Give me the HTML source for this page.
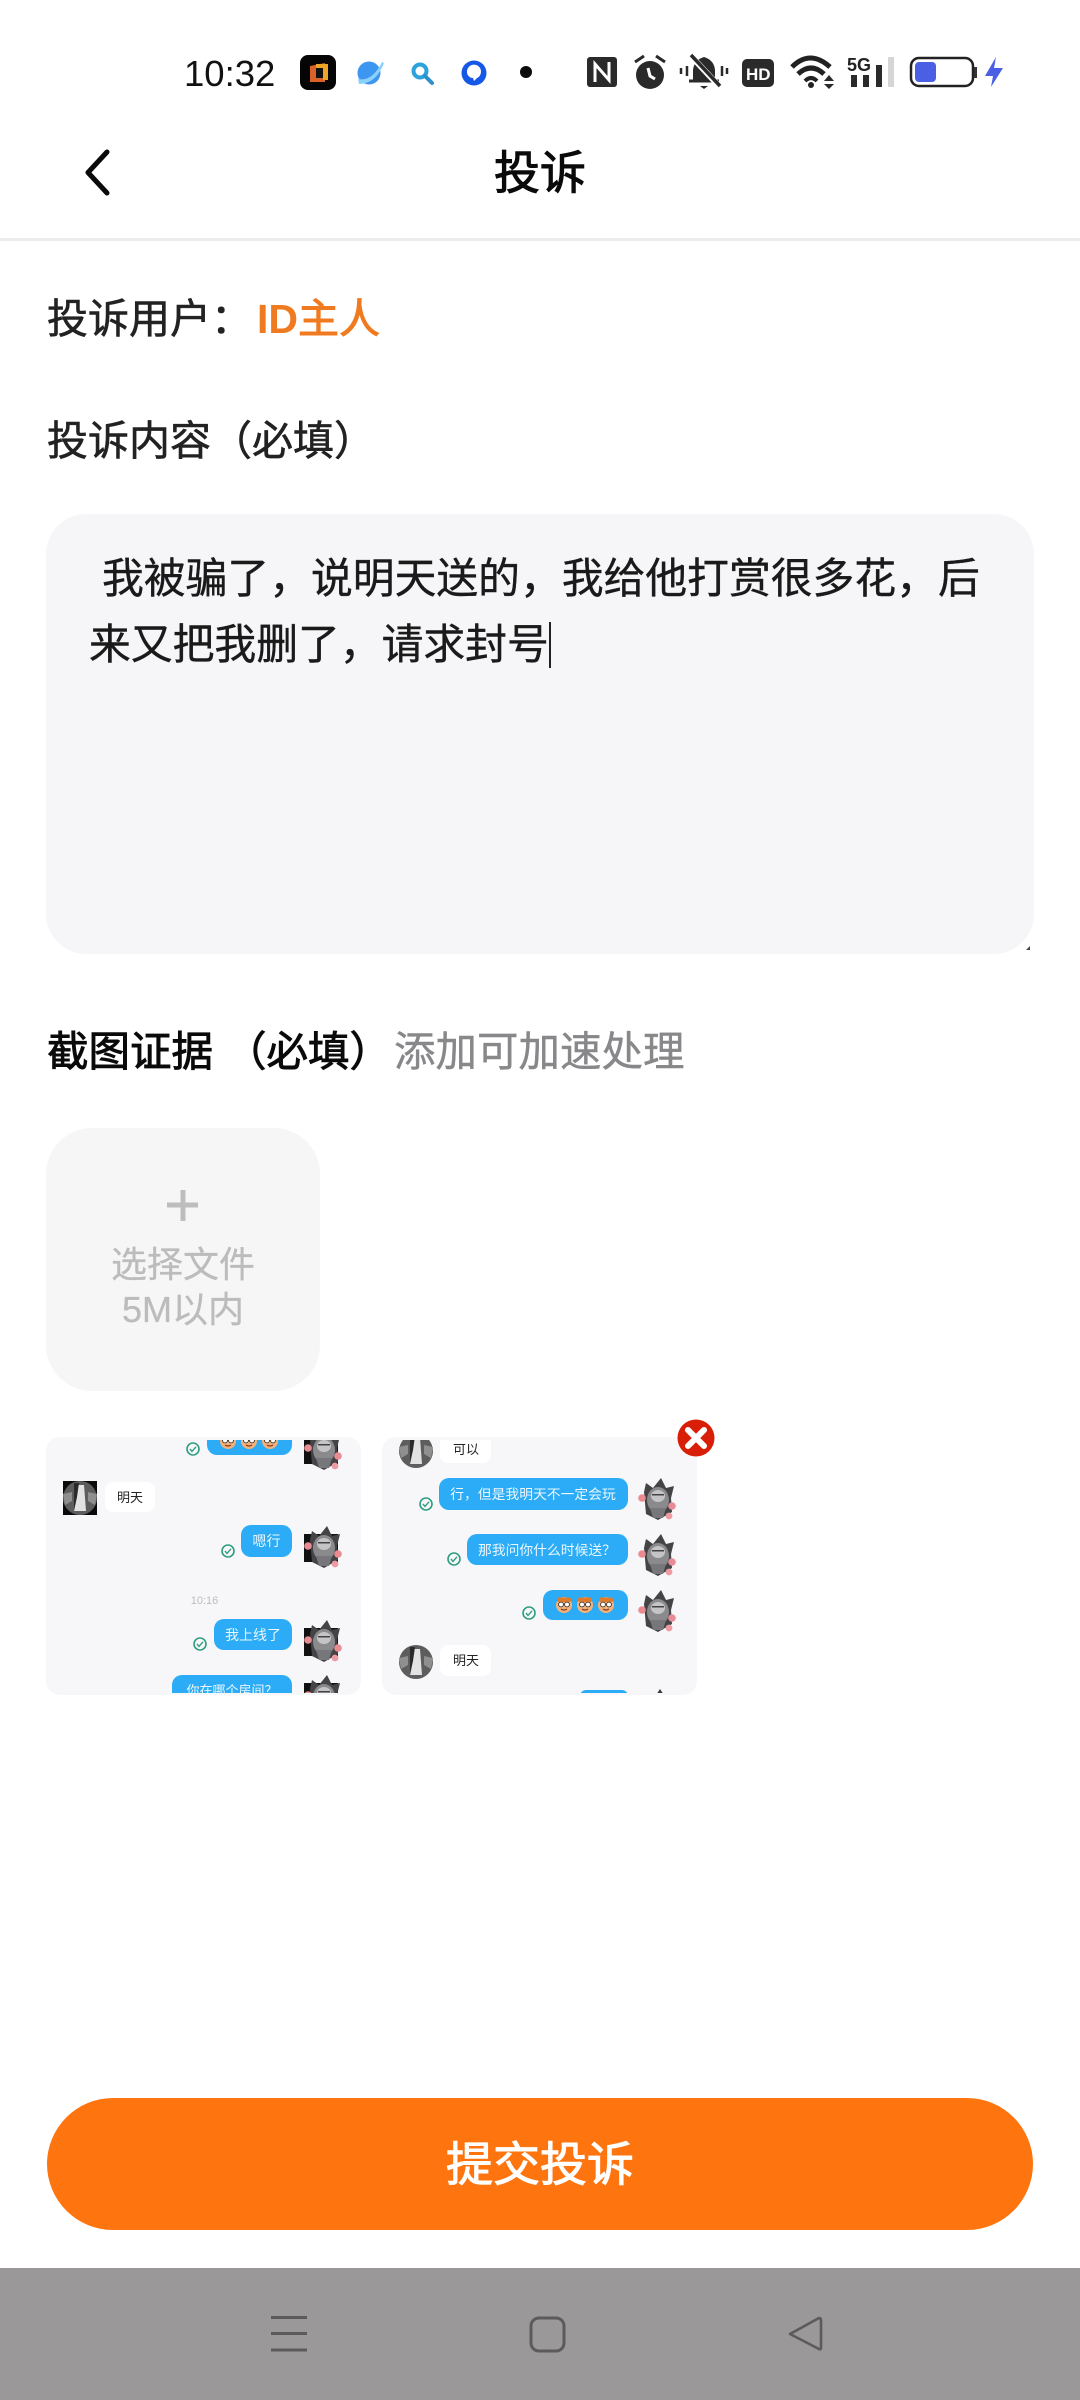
<!DOCTYPE html>
<html lang="zh">
<head>
<meta charset="utf-8">
<title>投诉</title>
<style>
html,body{margin:0;padding:0;background:#fff;width:1080px;height:2400px;overflow:hidden}
svg{display:block}
text{font-family:"Liberation Sans","Noto Sans CJK SC",sans-serif}
</style>
</head>
<body>
<svg xmlns="http://www.w3.org/2000/svg" width="1080" height="2400" viewBox="0 0 1080 2400">
<defs>
<clipPath id="c1"><rect x="46" y="1440" width="315" height="253"/></clipPath>
<clipPath id="c2"><rect x="382" y="1440" width="315" height="253"/></clipPath>
<g id="cat">
  <polygon points="6,14 8,5 15,10 23,0 28,10 36,8 33,20 34,34 20,42 8,36" fill="#444447"/>
  <ellipse cx="20" cy="22" rx="11" ry="13" fill="#8a8a8d"/>
  <ellipse cx="20" cy="18" rx="7" ry="6" fill="#c4c4c6"/>
  <rect x="14" y="16" width="12" height="1.5" fill="#444"/>
  <path d="M12 30 L28 30 L25 40 L15 40Z" fill="#77777b"/>
  <circle cx="4" cy="20" r="3.8" fill="#e88b93"/>
  <circle cx="34" cy="28" r="3.8" fill="#e88b93"/>
  <circle cx="31" cy="38" r="3.4" fill="#ee9aa2"/>
</g>
<g id="girl">
  <circle cx="17" cy="17" r="17" fill="#5d5d5d"/>
  <path d="M13 4 L21 4 L23 30 L11 30Z" fill="#e2e2e2"/>
  <path d="M11 2 L16 2 L14 16 L11 30Z" fill="#2a2a2a"/>
  <path d="M0 13 L9 11 L9 20 L2 24Z" fill="#8f8f8f"/>
  <path d="M34 13 L25 11 L25 20 L32 24Z" fill="#8f8f8f"/>
</g>
<g id="ck">
  <circle r="6" fill="none" stroke="#2f9e80" stroke-width="1.6"/>
  <path d="M-3 0 L-1 2.4 L3 -2.2" fill="none" stroke="#2f9e80" stroke-width="1.4"/>
</g>
<g id="mk">
  <circle r="8" fill="#f3b27a"/>
  <rect x="-7" y="-7.5" width="14" height="4.5" rx="2" fill="#e07b2c"/>
  <circle cx="-3" cy="-.5" r="2.4" fill="#fff" stroke="#222" stroke-width=".8"/>
  <circle cx="3" cy="-.5" r="2.4" fill="#fff" stroke="#222" stroke-width=".8"/>
  <path d="M-3 4 Q0 6 3 4" fill="none" stroke="#8c3b1c" stroke-width="1.2"/>
</g>
</defs>

<rect width="1080" height="2400" fill="#fff"/>

<!-- status bar -->
<text x="184" y="86" font-size="36.5" fill="#111">10:32</text>
<rect x="300" y="55" width="36" height="35" rx="8" fill="#050505"/>
<path d="M310 66 L325 63 V82 L310 82Z" fill="#d9612a"/>
<path d="M316 64 H328 V80 H323 V68 H316Z" fill="#f0a524"/>
<rect x="316" y="68" width="7" height="10" fill="#111"/>
<circle cx="369" cy="73" r="11.5" fill="#3d96ef"/>
<path d="M358 79 Q372 82 382 62 L384 63 Q376 84 359 84Z" fill="#8bd2fa"/>
<circle cx="420" cy="71" r="6.5" fill="none" stroke="#2ba3dd" stroke-width="4"/>
<path d="M425 76 L432 83" stroke="#2f8fc9" stroke-width="4" stroke-linecap="round"/>
<circle cx="474" cy="73" r="12.5" fill="#1557e6"/>
<path d="M467 72 a7 7 0 1 1 10 6 l-3 3 l-1 -3 a6 6 0 0 1 -6 -6z" fill="#fff"/>
<circle cx="526" cy="72" r="6" fill="#0a0a0a"/>

<rect x="587" y="57" width="30" height="30" rx="3" fill="#2a2a2a"/>
<path d="M595 82 V64 L609 80 V62" fill="none" stroke="#fff" stroke-width="3"/>
<circle cx="650" cy="75" r="14" fill="#2a2a2a"/>
<path d="M635 62 L644 56 M665 62 L656 56" stroke="#2a2a2a" stroke-width="3"/>
<path d="M648 68 L650 76 L655 79" fill="none" stroke="#fff" stroke-width="3"/>
<path d="M693 81 L693 70 Q694 60 704 57 Q714 60 715 70 L715 81Z" fill="#2a2a2a"/>
<path d="M689 81 H719" stroke="#2a2a2a" stroke-width="3"/>
<path d="M691 56 L719 86" stroke="#fff" stroke-width="6"/>
<path d="M691 55 L720 86" stroke="#2a2a2a" stroke-width="3.5"/>
<path d="M681 68 V74 M687 66 V76 M722 66 V76 M727 68 V74" stroke="#2a2a2a" stroke-width="2.5"/>
<path d="M700 86 h8 l-4 3z" fill="#2a2a2a"/>
<rect x="742" y="59" width="32" height="28" rx="5" fill="#2a2a2a"/>
<text x="746" y="80" font-size="17" font-weight="700" fill="#fff">HD</text>
<path d="M792 67 Q810 49 830 67" fill="none" stroke="#222" stroke-width="5"/>
<path d="M798 74 Q811 62 824 74" fill="none" stroke="#222" stroke-width="5"/>
<path d="M805 81 Q811 75 817 81" fill="none" stroke="#222" stroke-width="4"/>
<circle cx="811" cy="85" r="3" fill="#222"/>
<path d="M824 81 L829 75 L834 81Z M824 84 L834 84 L829 89Z" fill="#2a2a2a"/>
<text x="847" y="71" font-size="18" font-weight="700" fill="#222">5G</text>
<rect x="851" y="75" width="6" height="12" fill="#2a2a2a"/>
<rect x="863" y="75" width="6" height="12" fill="#2a2a2a"/>
<rect x="876" y="65" width="6" height="22" fill="#2a2a2a"/>
<rect x="888" y="57" width="6" height="30" fill="#d6d6d6"/>
<rect x="911" y="58" width="62" height="28" rx="8" fill="none" stroke="#222" stroke-width="2.5"/>
<rect x="915" y="62" width="21" height="20" rx="4" fill="#4a5fe3"/>
<rect x="974" y="67" width="3" height="11" fill="#333"/>
<path d="M996 57 L985 76 L993 76 L991 87 L1003 68 L994 68Z" fill="#4a5fe3"/>

<!-- header -->
<path d="M107 152 L88 172.5 L107 193" fill="none" stroke="#0a0a0a" stroke-width="5" stroke-linecap="round" stroke-linejoin="round"/>
<text x="540" y="189" font-size="46" stroke="#0a0a0a" stroke-width="1" text-anchor="middle" fill="#0a0a0a">投诉</text>
<rect x="0" y="238" width="1080" height="3" fill="#ececec"/>

<!-- form -->
<text x="47" y="333" font-size="41" stroke="#222" stroke-width=".6" fill="#222">投诉用户：</text>
<text x="257" y="333" font-size="41" font-weight="700" fill="#f07a20">ID<tspan font-weight="400" stroke="#f07a20" stroke-width="1">主人</tspan></text>
<text x="47" y="455" font-size="41" stroke="#222" stroke-width=".6" fill="#222">投诉内容（必填）</text>

<rect x="46" y="514" width="988" height="440" rx="40" fill="#f6f6f8"/>
<text x="102" y="593" font-size="41.8" stroke="#1a1a1a" stroke-width=".4" fill="#1a1a1a">我被骗了，说明天送的，我给他打赏很多花，后</text>
<text x="89" y="659" font-size="41.8" stroke="#1a1a1a" stroke-width=".4" fill="#1a1a1a">来又把我删了，请求封号</text>
<rect x="549" y="622" width="2" height="46" fill="#222"/>
<path d="M1026 950 L1030 946 L1030 950Z" fill="#444"/>

<text x="47" y="1066" font-size="41.5" stroke="#0a0a0a" stroke-width=".9" fill="#0a0a0a">截图证据</text>
<text x="225" y="1066" font-size="41.5" stroke="#0a0a0a" stroke-width=".9" fill="#0a0a0a">（必填）</text>
<text x="394" y="1066" font-size="41.5" stroke="#88878a" stroke-width=".4" fill="#88878a">添加可加速处理</text>

<rect x="46" y="1128" width="274" height="263" rx="46" fill="#f6f6f7"/>
<rect x="167" y="1202.5" width="31" height="5" fill="#bdbdbd"/>
<rect x="180.5" y="1190" width="5" height="31" fill="#bdbdbd"/>
<text x="183" y="1277" font-size="36" text-anchor="middle" stroke="#bcbcbc" stroke-width=".3" fill="#bcbcbc">选择文件</text>
<text x="183" y="1322" font-size="36" text-anchor="middle" stroke="#bcbcbc" stroke-width=".3" fill="#bcbcbc">5M以内</text>

<!-- thumb 1 -->
<rect x="46" y="1437" width="315" height="258" rx="14" fill="#f7f7f9"/>
<g clip-path="url(#c1)">
  <rect x="207" y="1425" width="85" height="30" rx="10" fill="#2cacf6"/>
  <g transform="translate(228 1441)"><use href="#mk"/></g>
  <g transform="translate(249 1441)"><use href="#mk"/></g>
  <g transform="translate(270 1441)"><use href="#mk"/></g>
  <use href="#ck" x="193" y="1449"/>
  <g transform="translate(304 1428)"><rect x="0" y="8" width="34" height="28" fill="#111"/><use href="#cat"/></g>

  <rect x="63" y="1481" width="34" height="34" fill="#0a0a0a"/>
  <use href="#girl" x="63" y="1481"/>
  <rect x="105" y="1482" width="50" height="30" rx="8" fill="#fff"/>
  <text x="130" y="1502" font-size="13" text-anchor="middle" fill="#222">明天</text>

  <rect x="241" y="1525" width="51" height="32" rx="10" fill="#2cacf6"/>
  <text x="266.5" y="1546" font-size="14" text-anchor="middle" fill="#eaf7ff">嗯行</text>
  <use href="#ck" x="228" y="1551"/>
  <g transform="translate(304 1526)"><rect x="0" y="8" width="34" height="28" fill="#111"/><use href="#cat"/></g>

  <text x="204.5" y="1604" font-size="11" text-anchor="middle" fill="#bdbdbd">10:16</text>

  <rect x="214" y="1619" width="78" height="31" rx="10" fill="#2cacf6"/>
  <text x="253" y="1640" font-size="14" text-anchor="middle" fill="#eaf7ff">我上线了</text>
  <use href="#ck" x="200" y="1644"/>
  <g transform="translate(304 1620)"><rect x="0" y="8" width="34" height="28" fill="#111"/><use href="#cat"/></g>

  <rect x="172" y="1675" width="120" height="40" rx="10" fill="#2cacf6"/>
  <text x="232" y="1695" font-size="13" text-anchor="middle" fill="#eaf7ff">你在哪个房间？</text>
  <g transform="translate(304 1675)"><rect x="0" y="8" width="34" height="28" fill="#111"/><use href="#cat"/></g>
</g>

<!-- thumb 2 -->
<rect x="382" y="1437" width="315" height="258" rx="14" fill="#f7f7f9"/>
<g clip-path="url(#c2)">
  <use href="#girl" x="399" y="1434"/>
  <rect x="440" y="1430" width="51" height="33" rx="8" fill="#fff"/>
  <text x="466" y="1454" font-size="13" text-anchor="middle" fill="#222">可以</text>

  <rect x="439" y="1478" width="189" height="32" rx="10" fill="#2cacf6"/>
  <text x="533" y="1499" font-size="13.8" text-anchor="middle" fill="#eaf7ff">行，但是我明天不一定会玩</text>
  <use href="#ck" x="426" y="1504"/>
  <use href="#cat" x="638" y="1478"/>

  <rect x="467" y="1534" width="161" height="31" rx="10" fill="#2cacf6"/>
  <text x="547" y="1555" font-size="13.8" text-anchor="middle" fill="#eaf7ff">那我问你什么时候送？</text>
  <use href="#ck" x="454" y="1559"/>
  <use href="#cat" x="638" y="1534"/>

  <rect x="543" y="1590" width="85" height="30" rx="10" fill="#2cacf6"/>
  <use href="#mk" x="564" y="1605"/>
  <use href="#mk" x="585" y="1605"/>
  <use href="#mk" x="606" y="1605"/>
  <use href="#ck" x="529" y="1613"/>
  <use href="#cat" x="638" y="1590"/>

  <use href="#girl" x="399" y="1645"/>
  <rect x="440" y="1645" width="51" height="31" rx="8" fill="#fff"/>
  <text x="466" y="1665" font-size="13" text-anchor="middle" fill="#222">明天</text>

  <rect x="580" y="1690" width="48" height="20" rx="6" fill="#2cacf6"/>
  <polygon points="660,1689 656,1695 664,1695" fill="#3c3c3e"/>
</g>

<!-- close button -->
<circle cx="696" cy="1438" r="18.5" fill="#d81e06"/>
<path d="M688 1430 L704 1446 M704 1430 L688 1446" stroke="#fff" stroke-width="6" stroke-linecap="round"/>

<!-- submit -->
<rect x="47" y="2098" width="986" height="132" rx="66" fill="#fe7510"/>
<text x="540" y="2181" font-size="47" stroke="#fff" stroke-width="1" text-anchor="middle" fill="#fff">提交投诉</text>

<!-- nav bar -->
<rect x="0" y="2268" width="1080" height="132" fill="#9a9899"/>
<path d="M271 2317.5 H307 M271 2333.5 H307 M271 2350 H307" stroke="#5b5b5b" stroke-width="3"/>
<rect x="531" y="2318" width="33" height="33" rx="8" fill="none" stroke="#5b5b5b" stroke-width="3"/>
<path d="M790 2334 L819 2318 Q821 2318 821 2320 V2348 Q821 2350 819 2349Z" fill="none" stroke="#5b5b5b" stroke-width="2.6" stroke-linejoin="round"/>
</svg>
</body>
</html>
